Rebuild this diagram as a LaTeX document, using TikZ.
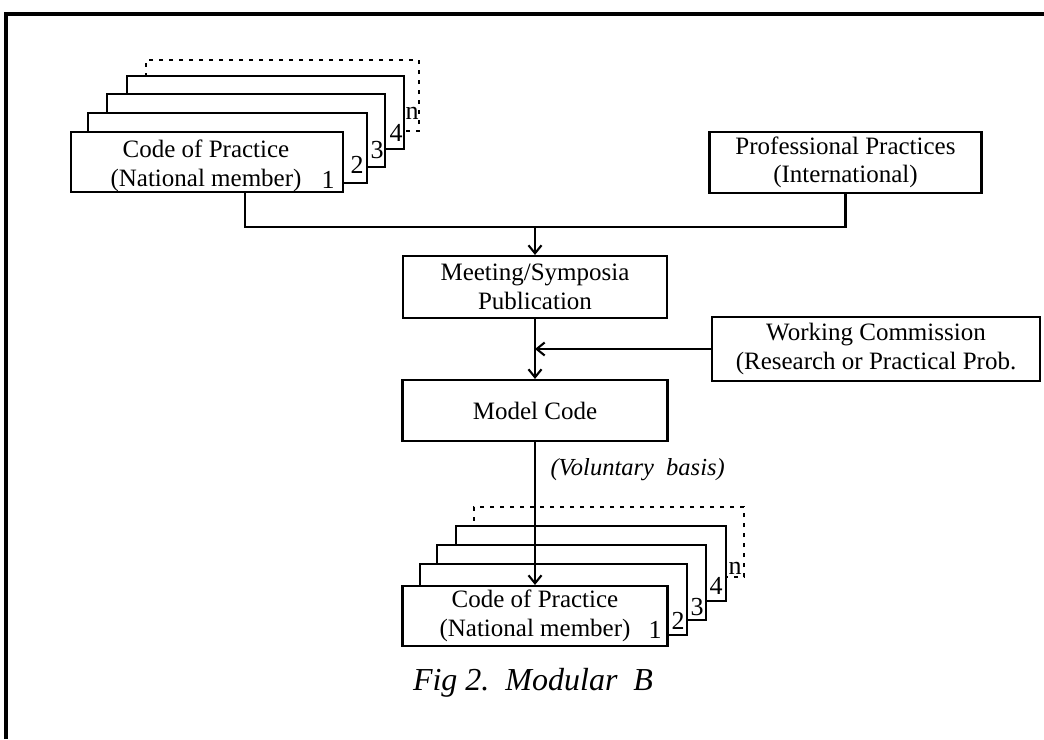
\documentclass[tikz,border=0pt]{standalone}
\usepackage{fontspec}
\setmainfont{Liberation Serif}
\usetikzlibrary{arrows.meta}
\begin{document}
\begin{tikzpicture}[x=1pt,y=-1pt,
  every node/.style={font=\fontsize{25}{28.5}\selectfont},
  box/.style={draw, line width=2.1pt, fill=white, align=center, inner sep=0pt},
  sheet/.style={draw, line width=2.1pt, fill=white, inner sep=0pt},
  lastsheet/.style={draw, line width=2.8pt, dash pattern=on 4pt off 6pt, fill=white, inner sep=0pt},
  num/.style={font=\fontsize{26}{28}\selectfont, inner sep=0pt},
  link/.style={line width=2.1pt},
  flow/.style={link, -{Straight Barb[length=8pt,width=13pt,line width=2.1pt]}}
]
\useasboundingbox (0,0) rectangle (1044,739);

% frame (top and left rules)
\draw[line width=3.5pt] (6,739) -- (6,14) -- (1044,14);

% ---- upper stack of national codes ----
\node[lastsheet, minimum width=273pt, minimum height=71pt] (un) at (282.5,95.5) {};
\node[sheet, minimum width=277pt, minimum height=73pt] (u4) at (265.5,112.5) {};
\node[sheet, minimum width=278pt, minimum height=73pt] (u3) at (246,130.5) {};
\node[sheet, minimum width=279pt, minimum height=70pt] (u2) at (227.5,148) {};
\node[box, minimum width=272pt, minimum height=60pt] (u1) at (207,162) {};
\node[align=center, inner sep=0pt] (u1t) at (206,166) {Code of Practice\\(National member)};
\node[num] (u1n) at (328,180) {1};
\node[num] (u2n) at (357,165) {2};
\node[num] (u3n) at (377,150) {3};
\node[num] (u4n) at (396,133) {4};
\node[num] (unn) at (412,113) {n};

% ---- other boxes ----
\node[box, minimum width=272pt, minimum height=61pt] (pp) at (845.5,162.5)
  {Professional Practices\\(International)};
\node[box, minimum width=264pt, minimum height=62pt] (mtg) at (535,287)
  {Meeting/Symposia\\Publication};
\node[box, minimum width=328pt, minimum height=64pt] (wc) at (876,349)
  {Working Commission\\(Research or Practical Prob.};
\node[box, minimum width=265pt, minimum height=61pt] (model) at (535,410.5)
  {Model Code};

% ---- lower stack of national codes ----
\node[lastsheet, minimum width=270pt, minimum height=70pt] (ln) at (609,542) {};
\node[sheet, minimum width=270pt, minimum height=75pt] (l4) at (591,563.5) {};
\node[sheet, minimum width=269pt, minimum height=75pt] (l3) at (571.5,582.5) {};
\node[sheet, minimum width=267pt, minimum height=71pt] (l2) at (553.5,599.5) {};
\node[box, minimum width=265pt, minimum height=60pt] (l1) at (535,616)
  {Code of Practice\\(National member)};
\node[num] (l1n) at (655,630) {1};
\node[num] (l2n) at (678,621) {2};
\node[num] (l3n) at (697,607) {3};
\node[num] (l4n) at (716,586) {4};
\node[num] (lnn) at (735,568) {n};

% ---- connectors ----
\coordinate (busL) at (245,227);
\coordinate (busM) at (535,227);
\draw[link] (u1.south -| busL) -- (busL) -- (busL -| pp.south) -- (pp.south);
\draw[flow] (busM) -- (mtg.north);
\draw[flow] (mtg.south) -- (model.north);
\draw[flow] (wc.west) -- (wc.west -| mtg.south);
\draw[flow] (model.south) -- (l1.north);
\node[anchor=west, font=\fontsize{24.5}{28}\selectfont\itshape] (vol) at (547,470) {(Voluntary\ \ basis)};

% caption
\node[font=\fontsize{32}{36}\selectfont\itshape] (cap) at (533,683) {Fig 2.\ \ Modular\ \ B};
\end{tikzpicture}
\end{document}
